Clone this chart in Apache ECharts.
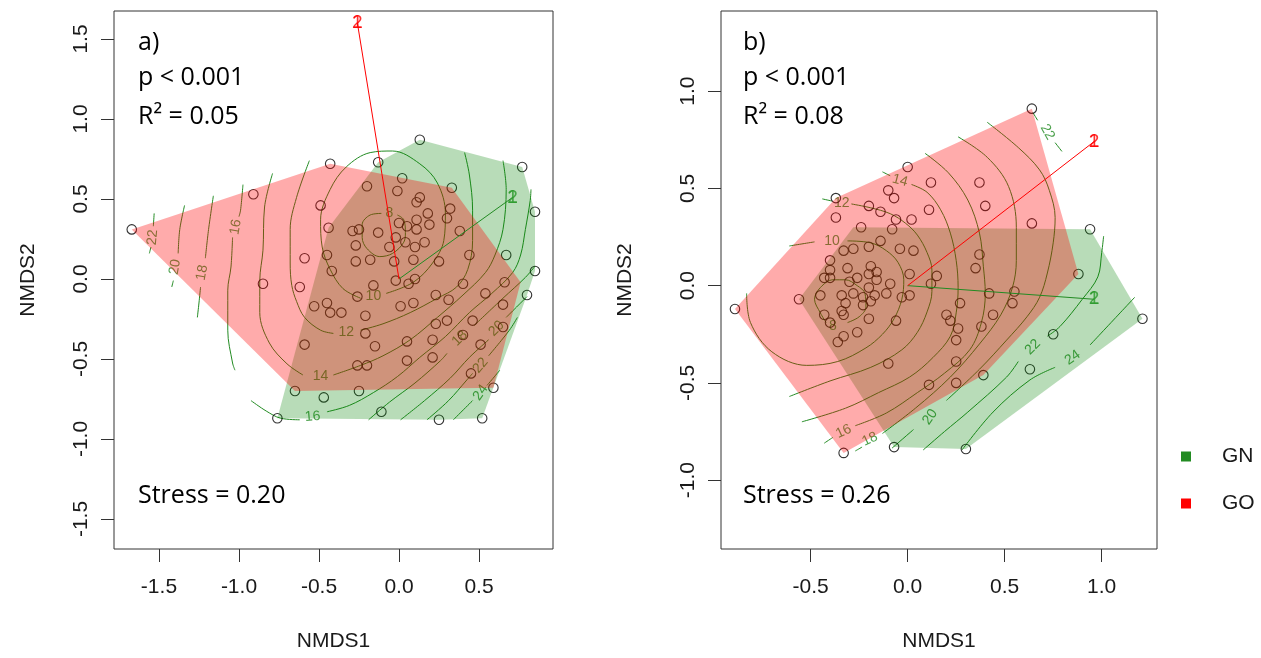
<!DOCTYPE html>
<html><head><meta charset="utf-8">
<script src="https://cdn.jsdelivr.net/npm/echarts@6/dist/echarts.min.js"></script>
<style>html,body{margin:0;padding:0;background:#fff;}#c{width:1261px;height:658px;}</style>
</head><body><div id="c"></div>
<script>
// ---------------- DATA ----------------
const groups = ['GN', 'GO'];
const xTicksA = [-1.5, -1.0, -0.5, 0.0, 0.5];
const yTicksA = [-1.5, -1.0, -0.5, 0.0, 0.5, 1.0, 1.5];
const xTicksB = [-0.5, 0.0, 0.5, 1.0];
const yTicksB = [-1.0, -0.5, 0.0, 0.5, 1.0];
const textA = ['a)', 'p < 0.001', 'R\u00B2 = 0.05', 'Stress = 0.20'];
const textB = ['b)', 'p < 0.001', 'R\u00B2 = 0.08', 'Stress = 0.26'];

const sitesA = [
[-1.67,0.31],[-0.91,0.53],[-0.43,0.72],[-0.13,0.73],[0.13,0.87],[0.02,0.63],[0.33,0.57],[-0.20,0.58],[-0.01,0.55],[0.13,0.51],
[0.11,0.48],[-0.49,0.46],[0.32,0.44],[0.18,0.41],[0.30,0.38],[0.11,0.37],[0.00,0.35],[0.05,0.33],[0.19,0.34],[0.11,0.31],
[-0.44,0.32],[-0.29,0.30],[-0.25,0.31],[-0.13,0.29],[0.38,0.30],[-0.02,0.26],[0.16,0.23],[0.04,0.23],[-0.27,0.21],[0.10,0.20],
[-0.06,0.20],[-0.45,0.15],[-0.59,0.13],[0.44,0.15],[-0.27,0.11],[-0.18,0.12],[-0.03,0.11],[0.09,0.12],[0.25,0.11],[-0.42,0.05],
[-0.02,-0.01],[0.10,0.00],[0.06,-0.03],[0.40,-0.03],[-0.62,-0.05],[-0.16,-0.04],[0.54,-0.09],[-0.26,-0.11],[0.23,-0.10],[0.31,-0.13],
[-0.53,-0.17],[-0.45,-0.15],[-0.43,-0.21],[-0.36,-0.21],[-0.21,-0.23],[0.01,-0.17],[0.09,-0.15],[0.23,-0.28],[0.30,-0.26],[0.46,-0.26],
[-0.85,-0.03],[0.80,-0.10],[0.66,-0.02],[0.65,-0.16],[0.65,-0.30],[-0.21,-0.34],[0.05,-0.39],[0.21,-0.38],[0.40,-0.35],[-0.59,-0.41],
[-0.15,-0.42],[0.51,-0.41],[0.05,-0.51],[0.21,-0.49],[-0.26,-0.54],[-0.20,-0.54],[0.45,-0.59],[-0.65,-0.70],[-0.25,-0.70],[0.59,-0.68],
[-0.47,-0.74],[-0.11,-0.83],[-0.76,-0.87],[0.25,-0.88],[0.52,-0.87],[0.77,0.70],[0.85,0.42],[0.67,0.15],[0.85,0.05]
];
const sitesB = [
[0.00,0.61],[0.12,0.53],[-0.10,0.49],[-0.07,0.45],[-0.37,0.45],[0.11,0.39],[-0.20,0.41],[-0.14,0.38],[-0.06,0.34],[0.02,0.34],
[-0.37,0.35],[-0.24,0.30],[-0.08,0.29],[-0.14,0.23],[-0.20,0.20],[-0.04,0.19],[0.03,0.18],[-0.33,0.18],[-0.28,0.19],[-0.40,0.13],
[-0.19,0.10],[-0.31,0.09],[-0.40,0.08],[-0.16,0.07],[-0.20,0.06],[-0.26,0.04],[-0.16,0.03],[-0.43,0.04],[-0.40,0.04],[-0.30,0.02],
[-0.09,0.01],[0.01,0.06],[-0.20,-0.01],[-0.45,-0.05],[-0.34,-0.05],[-0.28,-0.04],[-0.23,-0.06],[-0.17,-0.05],[-0.11,-0.04],[-0.56,-0.07],
[-0.03,-0.06],[0.01,-0.05],[0.15,0.05],[0.12,0.01],[-0.23,-0.10],[-0.19,-0.08],[-0.32,-0.09],[-0.34,-0.13],[-0.33,-0.15],[-0.43,-0.15],
[-0.20,-0.17],[-0.06,-0.18],[-0.40,-0.19],[-0.26,-0.24],[-0.33,-0.26],[-0.36,-0.29],[0.20,-0.15],[0.22,-0.18],[0.27,-0.09],[0.25,-0.28],
[-0.89,-0.12],[0.40,0.41],[0.64,0.32],[0.94,0.29],[0.37,0.16],[0.35,0.09],[0.88,0.06],[0.42,-0.04],[0.55,-0.03],[0.54,-0.09],
[0.44,-0.15],[0.38,-0.21],[0.26,-0.22],[0.75,-0.25],[1.21,-0.17],[-0.10,-0.40],[0.25,-0.39],[0.63,-0.43],[0.39,-0.46],[0.11,-0.51],
[0.25,-0.50],[-0.07,-0.83],[0.30,-0.84],[-0.33,-0.86],[0.64,0.91],[0.37,0.53]
];

// convex hulls per group (GN, GO)
const hullA_GN = [[0.13,0.87],[0.77,0.70],[0.85,0.42],[0.85,0.05],[0.80,-0.10],[0.52,-0.87],[0.25,-0.88],[-0.76,-0.87],[-0.44,0.32],[-0.13,0.73]];
const hullA_GO = [[-1.67,0.31],[-0.43,0.72],[0.33,0.57],[0.76,-0.02],[0.59,-0.68],[-0.65,-0.70]];
const hullB_GN = [[0.94,0.29],[1.21,-0.17],[0.30,-0.84],[-0.07,-0.83],[-0.56,-0.07],[-0.28,0.30]];
const hullB_GO = [[0.64,0.91],[0.88,0.06],[0.39,-0.46],[-0.33,-0.86],[-0.89,-0.12],[-0.37,0.45]];

// fitted vectors (arrow tips)
const arrowA_GN = [0.71, 0.51];
const arrowA_GO = [-0.26, 1.60];
const arrowB_GN = [0.96, -0.07];
const arrowB_GO = [0.96, 0.74];
const arrowLabels = ['1', '2'];

// surface contours (segments per level)
const contourA8  = [[[-0.01,0.40],[0.03,0.37],[0.04,0.29],[0.03,0.23],[-0.04,0.16],[-0.12,0.14],[-0.20,0.19],[-0.23,0.26],[-0.23,0.34],[-0.18,0.40],[-0.11,0.41]]];
const contourA10 = [[[-0.08,-0.09],[0.09,-0.02],[0.21,0.10],[0.28,0.24],[0.29,0.41],[0.24,0.60],[0.13,0.72],[-0.04,0.80],[-0.18,0.79],[-0.33,0.70],[-0.43,0.56],[-0.49,0.37],[-0.48,0.20],[-0.43,0.06],[-0.35,-0.06],[-0.24,-0.12]]];
const contourA12 = [
 [[-0.56,0.74],[-0.64,0.51],[-0.68,0.31],[-0.68,0.10],[-0.67,-0.04],[-0.64,-0.14],[-0.59,-0.24],[-0.49,-0.32],[-0.41,-0.34]],
 [[-0.24,-0.32],[-0.10,-0.28],[0.07,-0.21],[0.24,-0.12],[0.36,-0.05],[0.43,0.06],[0.46,0.24],[0.46,0.43],[0.44,0.65],[0.41,0.79]]];
const contourA14 = [
 [[-0.79,0.66],[-0.84,0.45],[-0.85,0.18],[-0.87,-0.01],[-0.87,-0.21],[-0.81,-0.40],[-0.70,-0.53],[-0.60,-0.60]],
 [[-0.41,-0.60],[-0.24,-0.54],[-0.10,-0.48],[0.07,-0.38],[0.24,-0.24],[0.40,-0.10],[0.54,0.04],[0.60,0.15],[0.65,0.31],[0.67,0.56],[0.65,0.74]]];
const contourA16 = [
 [[-0.975,0.59],[-0.99,0.43],[-1.00,0.39]],
 [[-1.04,0.26],[-1.05,0.075],[-1.07,-0.07],[-1.07,-0.32],[-1.04,-0.525],[-1.025,-0.57]],
 [[-0.925,-0.76],[-0.83,-0.825],[-0.74,-0.87],[-0.62,-0.88]],
 [[-0.45,-0.83],[-0.31,-0.79],[-0.16,-0.71],[-0.01,-0.61],[0.13,-0.49],[0.29,-0.36],[0.44,-0.21],[0.58,-0.09],[0.71,0.04],[0.76,0.15],[0.79,0.31],[0.82,0.49],[0.825,0.56]]];
const contourA18 = [
 [[-1.16,0.52],[-1.19,0.31],[-1.21,0.13]],
 [[-1.24,-0.05],[-1.25,-0.15],[-1.26,-0.24]],
 [[-0.19,-0.88],[-0.06,-0.77],[0.10,-0.65],[0.26,-0.51],[0.30,-0.465]],
 [[0.47,-0.29],[0.65,-0.12],[0.79,0.01],[0.85,0.08]]];
const contourA20 = [
 [[-1.34,0.46],[-1.37,0.31],[-1.38,0.16]],
 [[-1.41,-0.01],[-1.42,-0.05]],
 [[0.01,-0.88],[0.16,-0.76],[0.32,-0.62],[0.44,-0.49],[0.56,-0.38]],
 [[0.67,-0.24],[0.80,-0.11]]];
const contourA22 = [
 [[-1.53,0.41],[-1.535,0.33]],
 [[-1.55,0.20],[-1.56,0.16]],
 [[0.175,-0.88],[0.31,-0.76],[0.425,-0.63],[0.46,-0.59]],
 [[0.56,-0.48],[0.69,-0.32],[0.74,-0.24]]];
const contourA24 = [
 [[0.34,-0.88],[0.43,-0.79],[0.46,-0.76]],
 [[0.55,-0.665],[0.58,-0.63],[0.63,-0.57]]];
const contourLabelsA = [['8',-0.06,0.41],['10',-0.16,-0.11],['12',-0.33,-0.33],['14',-0.49,-0.61],['16',-1.02,0.325],['16',-0.54,-0.86],
 ['18',-1.23,0.04],['20',-1.40,0.075],['22',-1.54,0.26],['18',0.38,-0.37],['20',0.61,-0.31],['22',0.51,-0.54],['24',0.51,-0.71]];

const contourB8  = [[[-0.31,-0.19],[-0.25,-0.16],[-0.215,-0.11],[-0.22,-0.04],[-0.26,0.00],[-0.32,0.03],[-0.385,0.03],[-0.45,-0.01],[-0.48,-0.07],[-0.45,-0.14],[-0.42,-0.19]]];
const contourB10 = [
 [[-0.61,0.204],[-0.48,0.225]],
 [[-0.31,0.23],[-0.19,0.22],[-0.11,0.18],[-0.05,0.12],[-0.02,0.03],[-0.03,-0.07],[-0.07,-0.17],[-0.13,-0.25],[-0.215,-0.32],[-0.36,-0.39],[-0.52,-0.41],[-0.70,-0.34],[-0.81,-0.19],[-0.83,-0.04]]];
const contourB12 = [
 [[-0.44,0.446],[-0.39,0.435]],
 [[-0.29,0.42],[-0.19,0.40],[-0.09,0.37],[-0.01,0.32],[0.05,0.26],[0.10,0.17],[0.125,0.08],[0.125,-0.03],[0.10,-0.135],[0.05,-0.24],[-0.03,-0.33],[-0.19,-0.42],[-0.40,-0.49],[-0.61,-0.57]]];
const contourB14 = [
 [[-0.13,0.585],[-0.09,0.565]],
 [[0.02,0.52],[0.10,0.48],[0.17,0.39],[0.22,0.27],[0.25,0.13],[0.26,-0.01],[0.25,-0.14],[0.22,-0.26],[0.13,-0.37],[0.01,-0.47],[-0.15,-0.55],[-0.32,-0.63],[-0.545,-0.70]]];
const contourB16 = [
 [[-0.43,-0.81],[-0.385,-0.78]],
 [[-0.27,-0.72],[-0.11,-0.655],[0.05,-0.55],[0.19,-0.45],[0.32,-0.33],[0.38,-0.19],[0.40,-0.04],[0.39,0.10],[0.37,0.27],[0.31,0.44],[0.21,0.58],[0.09,0.68]]];
const contourB18 = [
 [[-0.27,-0.85],[-0.235,-0.83]],
 [[-0.13,-0.76],[0.04,-0.63],[0.22,-0.47],[0.37,-0.30],[0.48,-0.15],[0.54,-0.01],[0.56,0.13],[0.56,0.30],[0.52,0.51],[0.41,0.66],[0.26,0.765]]];
const contourB20 = [
 [[-0.08,-0.835],[0.03,-0.74]],
 [[0.20,-0.59],[0.37,-0.43],[0.51,-0.28],[0.615,-0.16],[0.68,-0.06],[0.72,0.065],[0.75,0.22],[0.76,0.35],[0.73,0.49],[0.68,0.595],[0.57,0.71],[0.41,0.84]]];
const contourB22 = [
 [[0.645,0.89],[0.67,0.85]],
 [[0.76,0.735],[0.795,0.69]],
 [[0.08,-0.845],[0.19,-0.75],[0.31,-0.65],[0.51,-0.47],[0.57,-0.39]],
 [[0.72,-0.26],[0.785,-0.21],[0.90,-0.07],[0.98,0.045],[1.00,0.17],[1.01,0.255]]];
const contourB24 = [
 [[0.28,-0.845],[0.44,-0.65],[0.63,-0.485],[0.76,-0.42]],
 [[0.94,-0.305],[1.095,-0.14],[1.17,-0.06]]];
const contourLabelsB = [['8',-0.385,-0.21],['10',-0.39,0.23],['12',-0.34,0.425],['14',-0.04,0.54],['16',-0.33,-0.75],['18',-0.195,-0.79],
 ['20',0.115,-0.675],['22',0.645,-0.315],['24',0.85,-0.37],['22',0.72,0.79]];

// ---------------- STYLE / LAYOUT ----------------
const labelAnglesA = [0,0,0,0,80,5,80,80,85,45,45,50,55];
const labelAnglesB = [0,0,0,-15,25,25,55,45,35,-60];
const C_CONT = '#228B22';
const FILL = {GN: 'rgba(0,128,0,0.28)', GO: 'rgba(255,0,0,0.33)'};
const SOLID = {GN: '#228B22', GO: '#FF0000'};
const AXFONT = 'Liberation Sans';
const NOTEFONT = 'Open Sans';

function axisCommon(ticks, isY, margin) {
  return {
    type: 'value',
    axisLine: {show: false, onZero: false},
    splitLine: {show: false},
    axisTick: {show: true, length: 13, customValues: ticks, lineStyle: {color: '#333', width: 1}},
    axisLabel: {customValues: ticks, formatter: v => v.toFixed(1), fontSize: 21, fontFamily: AXFONT,
                color: '#1a1a1a', margin: margin, rotate: isY ? 90 : 0},
    nameLocation: 'middle',
    nameTextStyle: {fontSize: 21, fontFamily: AXFONT, color: '#1a1a1a'}
  };
}

const series = [];
function addPanel(ai, sites, hullGN, hullGO, arrGN, arrGO, contours, labels, angles) {
  contours.forEach(level => level.forEach(seg => series.push({
    type: 'line', xAxisIndex: ai, yAxisIndex: ai, data: seg, symbol: 'none', smooth: 0.35,
    lineStyle: {color: C_CONT, width: 1}, z: 1, silent: true, animation: false
  })));
  series.push({
    type: 'scatter', xAxisIndex: ai, yAxisIndex: ai, z: 1, silent: true, symbolSize: 1,
    itemStyle: {color: 'rgba(0,0,0,0)'},
    data: labels.map((l, i) => ({name: l[0], value: [l[1], l[2]], label: {rotate: angles[i]}})),
    label: {show: true, position: 'inside', formatter: '{b}', color: C_CONT, fontSize: 14, fontFamily: AXFONT}
  });
  series.push({
    type: 'scatter', xAxisIndex: ai, yAxisIndex: ai, z: 2, silent: true, symbol: 'circle', symbolSize: 9.5,
    itemStyle: {color: 'rgba(0,0,0,0)', borderColor: '#000', borderWidth: 1.1}, data: sites
  });
  [['GN', hullGN, 3], ['GO', hullGO, 4]].forEach(([g, hull, z]) => series.push({
    type: 'custom', name: g, xAxisIndex: ai, yAxisIndex: ai, z: z, silent: true, data: hull,
    itemStyle: {color: SOLID[g]},
    renderItem: (params, api) => {
      if (params.dataIndex !== 0) return null;
      return {type: 'polygon', shape: {points: hull.map(p => api.coord(p))}, style: {fill: FILL[g], stroke: null}};
    }
  }));
  [['GN', arrGN, '#2a9a2a'], ['GO', arrGO, '#FF0000']].forEach(([g, tip, col]) => {
    series.push({
      type: 'line', xAxisIndex: ai, yAxisIndex: ai, z: 5, silent: true, symbol: 'none',
      data: [[0, 0], tip], lineStyle: {color: g === 'GN' ? '#228B22' : '#FF0000', width: 1}
    });
    series.push({
      type: 'scatter', xAxisIndex: ai, yAxisIndex: ai, z: 6, silent: true, symbolSize: 1,
      itemStyle: {color: 'rgba(0,0,0,0)'},
      data: arrowLabels.map(t => ({name: t, value: tip})),
      label: {show: true, position: 'inside', formatter: '{b}', color: col, fontSize: 19, fontFamily: AXFONT}
    });
  });
}

addPanel(0, sitesA, hullA_GN, hullA_GO, arrowA_GN, arrowA_GO,
  [contourA8, contourA10, contourA12, contourA14, contourA16, contourA18, contourA20, contourA22, contourA24],
  contourLabelsA, labelAnglesA);
addPanel(1, sitesB, hullB_GN, hullB_GO, arrowB_GN, arrowB_GO,
  [contourB8, contourB10, contourB12, contourB14, contourB16, contourB18, contourB20, contourB22, contourB24],
  contourLabelsB, labelAnglesB);

function notes(x, txt) {
  const ys = [43, 78, 117, 496];
  return txt.map((t, i) => ({type: 'text', x: x, y: ys[i], z: 100,
    style: {text: t, fontSize: 25, fontFamily: NOTEFONT, fill: '#000', verticalAlign: 'middle'}}));
}

const option = {
  animation: false,
  backgroundColor: '#fff',
  grid: [
    {left: 114, top: 11, width: 439, height: 538, show: true, borderColor: '#333', borderWidth: 1, backgroundColor: 'transparent'},
    {left: 721, top: 11, width: 436, height: 538, show: true, borderColor: '#333', borderWidth: 1, backgroundColor: 'transparent'}
  ],
  xAxis: [
    Object.assign(axisCommon(xTicksA, false, 28), {gridIndex: 0, min: -1.781, max: 0.9625, name: 'NMDS1', nameGap: 82}),
    Object.assign(axisCommon(xTicksB, false, 28), {gridIndex: 1, min: -0.962, max: 1.285, name: 'NMDS1', nameGap: 82})
  ],
  yAxis: [
    Object.assign(axisCommon(yTicksA, true, 22), {gridIndex: 0, min: -1.6875, max: 1.675, name: 'NMDS2', nameGap: 75}),
    Object.assign(axisCommon(yTicksB, true, 22), {gridIndex: 1, min: -1.354, max: 1.412, name: 'NMDS2', nameGap: 85})
  ],
  legend: {
    orient: 'vertical', left: 1176, top: 441, itemWidth: 10, itemHeight: 10, itemGap: 26, icon: 'rect',
    selectedMode: false,
    textStyle: {fontFamily: AXFONT, fontSize: 21, color: '#1a1a1a', padding: [0, 0, 0, 26]},
    data: groups.map(g => ({name: g, itemStyle: {color: SOLID[g], opacity: 1}}))
  },
  graphic: notes(138, textA).concat(notes(743, textB)),
  series: series
};
const chart = echarts.init(document.getElementById('c'));
chart.setOption(option);
</script></body></html>
